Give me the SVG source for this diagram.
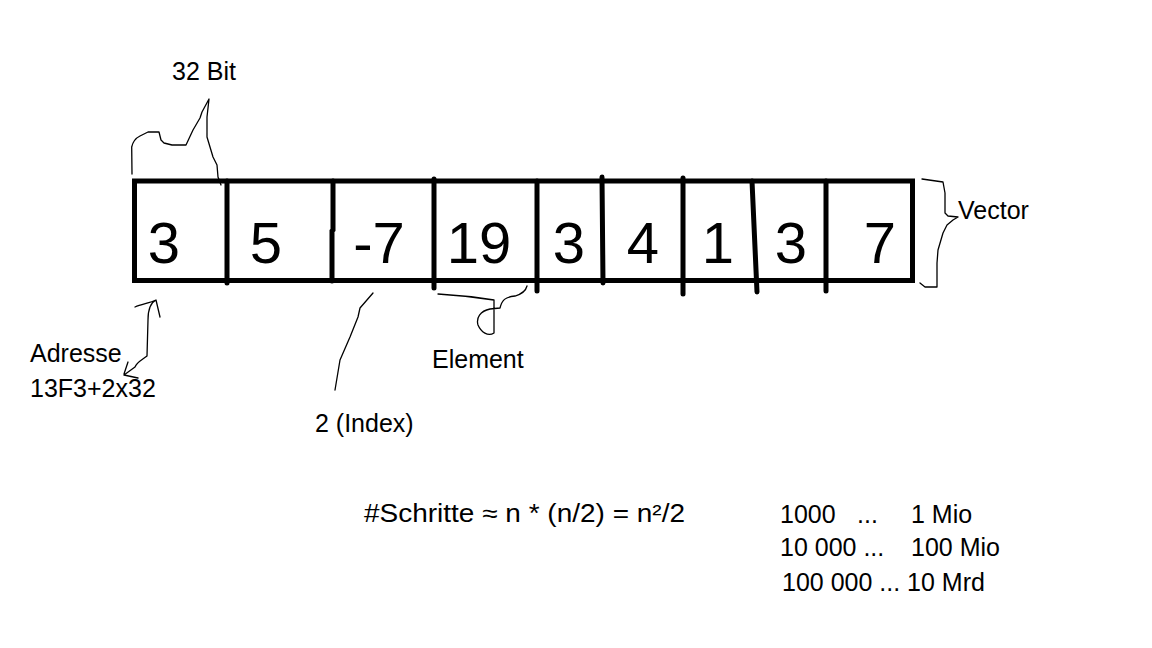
<svg xmlns="http://www.w3.org/2000/svg" width="1152" height="648" viewBox="0 0 1152 648">
<style>
.frame{fill:none;stroke:#000;stroke-width:5;stroke-linecap:round;stroke-linejoin:miter}
.div{fill:none;stroke:#000;stroke-width:5;stroke-linecap:round}
.num{font-family:"Liberation Sans",Arial,sans-serif;font-size:58px;fill:#000;text-anchor:middle}
.lbl{font-family:"Liberation Sans",Arial,sans-serif;font-size:25px;fill:#000}
.hand{fill:none;stroke:#000;stroke-width:1.3;stroke-linecap:round;stroke-linejoin:round}
</style>
<rect width="1152" height="648" fill="#fff"/>
<g id="vector">
  <rect class="frame" x="134.5" y="181" width="778" height="99.5"/>
  <path class="div" d="M227,181 L227,283"/>
  <path class="div" d="M333,181 L333,230 L332,231 L332,281"/>
  <path class="div" d="M434,179 L434,288"/>
  <path class="div" d="M537,181 L537,291"/>
  <path class="div" d="M602,177 L603,283"/>
  <path class="div" d="M683,178 L683,294"/>
  <path class="div" d="M752,181 L757,292"/>
  <path class="div" d="M826,181 L826,291"/>
</g>
<g id="cell0"><text class="num" x="164" y="263">3</text></g>
<g id="cell1"><text class="num" x="266" y="263">5</text></g>
<g id="cell2"><text class="num" x="379" y="263">-7</text></g>
<g id="cell3"><text class="num" x="479" y="263">19</text></g>
<g id="cell4"><text class="num" x="569" y="263">3</text></g>
<g id="cell5"><text class="num" x="643" y="263">4</text></g>
<g id="cell6"><text class="num" x="718" y="263">1</text></g>
<g id="cell7"><text class="num" x="791" y="263">3</text></g>
<g id="cell8"><text class="num" x="880" y="263">7</text></g>
<g id="label-32bit"><text class="lbl" x="172" y="80" font-size="26">32 Bit</text></g>
<g id="label-vector"><text class="lbl" x="958" y="219">Vector</text></g>
<g id="label-adresse"><text class="lbl" x="30" y="362">Adresse</text><text class="lbl" x="30" y="397">13F3+2x32</text></g>
<g id="label-index"><text class="lbl" x="315" y="432">2 (Index)</text></g>
<g id="label-element"><text class="lbl" x="432" y="368">Element</text></g>
<g id="formula"><text class="lbl" x="364" y="522" textLength="321" lengthAdjust="spacingAndGlyphs">#Schritte ≈ n * (n/2) = n²/2</text></g>
<g id="table">
  <text class="lbl" x="780" y="523">1000</text>
  <text class="lbl" x="857" y="523">...</text>
  <text class="lbl" x="911" y="523">1 Mio</text>
  <text class="lbl" x="780" y="556">10 000 ...</text>
  <text class="lbl" x="911" y="556">100 Mio</text>
  <text class="lbl" x="782" y="591">100 000 ... 10 Mrd</text>
</g>
<g id="connectors">
  <path class="hand" d="M132,174 L131.7,147 C133,141 136,138 140,136 L148,132 L159,132 L161,140 L164,143 L172,145 L186,145 L193,130 L200,118 L202,112 L209,99 L207,117 L207,137 L213,157 L217,165 L218,177 L221,185"/>
  <path class="hand" d="M922,179 L943,182 L945,193 L945,213 L948,216 L958,217 M958,217 L953,220 L947,225 L943,233 L938,250 L937,263 L937,287 L925,287 L920,283"/>
  <path class="hand" d="M438,294 C455,295 475,297 494,300 L494,333 C488,337 481,332 478,325 C476,318 480,311 490,309 L500,308 C502,300 505,297 515,296 C522,294 526,290 527,286"/>
  <path class="hand" d="M135,307 C142,304 150,303 156,300 L160,317 M156,300 C150,303 148,310 148,320 L147,356 C142,360 137,362 135,367 L124,375 M128,362 L124,374 M124,375 L138,378"/>
  <path class="hand" d="M373,293 L360,308 L358,317 L350,337 L340,360 L335,390"/>
</g>
</svg>
